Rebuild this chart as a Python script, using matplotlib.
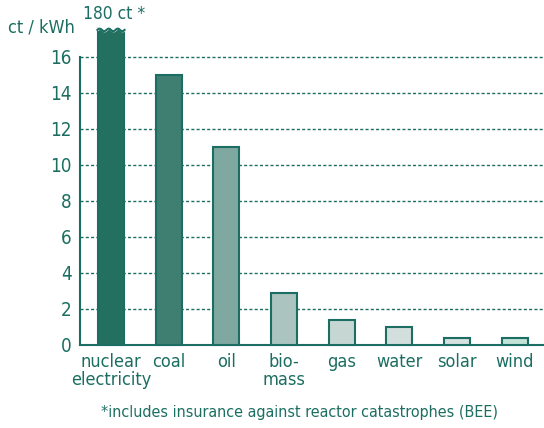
import numpy as np
import matplotlib.pyplot as plt

# cost of electricity in ct/kWh
sources = ['nuclear\nelectricity', 'coal', 'oil', 'bio-\nmass', 'gas', 'water', 'solar', 'wind']
costs = [180, 15, 11, 2.9, 1.4, 1.0, 0.4, 0.4]
bar_colors = ['#23705f', '#3f7f72', '#7fa8a0', '#abc4bf', '#c6d7d3', '#d3dfdc', '#d6e2df', '#c3e2d8']
yticks = [0, 2, 4, 6, 8, 10, 12, 14, 16]

teal = '#1b6e61'
plt.rcParams['font.family'] = ['DejaVu Sans']
plt.rcParams['font.stretch'] = 'condensed'

fig = plt.figure(figsize=(5.44, 4.28), dpi=100)
ax = fig.add_axes([0.147, 0.194, 0.853, 0.673])

x = np.arange(len(sources))
cap = 17.6  # display height of the broken nuclear bar
shown = [min(c, cap) for c in costs]
ax.bar(x, shown, width=0.45, color=bar_colors, edgecolor=teal, linewidth=1.5,
       zorder=3, clip_on=False)

# wavy break on top of the nuclear bar
wx = np.linspace(x[0] - 0.235, x[0] + 0.235, 100)
wy = cap - 0.1 + 0.07 * np.sin((wx - wx[0]) / 0.47 * 2 * np.pi * 3)
ax.fill_between(wx, wy, cap + 0.2, color='white', zorder=4, clip_on=False)
ax.plot(wx, wy, color=teal, lw=1.5, zorder=5, clip_on=False)
ax.text(x[0] + 0.05, cap + 0.3, '180 ct *', color=teal, fontsize=12.5,
        ha='center', va='bottom', clip_on=False)

ax.set_xlim(-0.538, 7.51)
ax.set_ylim(0, 16)
ax.set_yticks(yticks)
ax.set_yticklabels([str(t) for t in yticks], color=teal, fontsize=13.5)
ax.set_xticks(x)
ax.set_xticklabels(sources, color=teal, fontsize=13, linespacing=0.95)
ax.tick_params(axis='both', length=0, pad=6)
ax.tick_params(axis='y', pad=6)

for t in yticks[1:]:
    ax.axhline(t, color=teal, lw=1.0, ls=(0, (2.2, 1.6)), zorder=1, clip_on=False)

for s in ['top', 'right']:
    ax.spines[s].set_visible(False)
ax.spines['left'].set_color(teal)
ax.spines['bottom'].set_color(teal)
ax.spines['left'].set_linewidth(1.5)
ax.spines['bottom'].set_linewidth(1.5)

fig.text(0.015, 0.935, 'ct / kWh', color=teal, fontsize=13, ha='left', va='center')
fig.text(0.55, 0.037, '*includes insurance against reactor catastrophes (BEE)',
         color=teal, fontsize=11.5, ha='center', va='center')

plt.savefig('out.png', dpi=100)
